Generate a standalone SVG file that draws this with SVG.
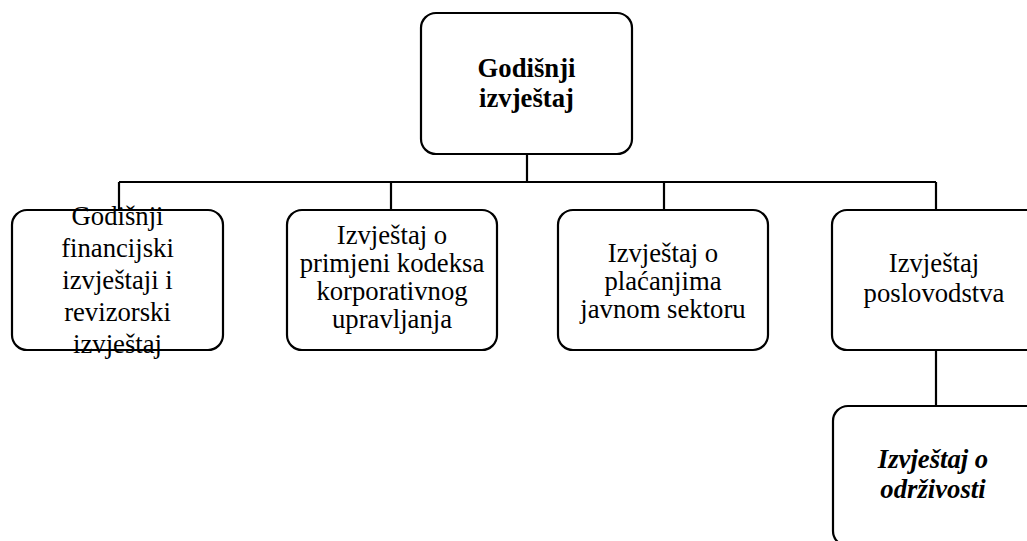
<svg xmlns="http://www.w3.org/2000/svg" width="1027" height="541" viewBox="0 0 1027 541">
<style>
.box{fill:#fff;stroke:#000;stroke-width:2.2}
.con{fill:none;stroke:#000;stroke-width:2.2}
.t{font-family:"Liberation Serif","Times New Roman",serif;font-size:26.7px;fill:#000;text-anchor:middle}
.b{font-weight:bold}
.bi{font-weight:bold;font-style:italic}
</style>
<rect width="1027" height="541" fill="#fff"/>
<g id="connectors">
<path class="con" d="M527 154V182M119 182H936M119 182V210M391 182V210M664 182V210M936 182V210M936 350V406"/>
</g>
<g id="root">
<rect class="box" x="421" y="13" width="211" height="141" rx="15"/>
<text class="t b" x="526.5" y="77">Godišnji</text>
<text class="t b" x="526.5" y="107">izvještaj</text>
</g>
<g id="n1">
<rect class="box" x="12" y="210" width="211" height="140" rx="15"/>
<text class="t" x="117.5" y="224.5">Godišnji</text>
<text class="t" x="117.5" y="256.5">financijski</text>
<text class="t" x="117.5" y="288.5">izvještaji i</text>
<text class="t" x="117.5" y="320.5">revizorski</text>
<text class="t" x="117.5" y="352.5">izvještaj</text>
</g>
<g id="n2">
<rect class="box" x="287" y="210" width="210" height="140" rx="15"/>
<text class="t" x="392" y="244">Izvještaj o</text>
<text class="t" x="392" y="272">primjeni kodeksa</text>
<text class="t" x="392" y="300">korporativnog</text>
<text class="t" x="392" y="328">upravljanja</text>
</g>
<g id="n3">
<rect class="box" x="558" y="210" width="210" height="140" rx="15"/>
<text class="t" x="663" y="262">Izvještaj o</text>
<text class="t" x="663" y="290">plaćanjima</text>
<text class="t" x="663" y="318">javnom sektoru</text>
</g>
<g id="n4">
<rect class="box" x="832" y="210" width="211" height="140" rx="15"/>
<text class="t" x="934" y="272">Izvještaj</text>
<text class="t" x="934" y="302">poslovodstva</text>
</g>
<g id="n5">
<rect class="box" x="833" y="406" width="210" height="140" rx="15"/>
<text class="t bi" x="933" y="468">Izvještaj o</text>
<text class="t bi" x="933" y="498">održivosti</text>
</g>
</svg>
